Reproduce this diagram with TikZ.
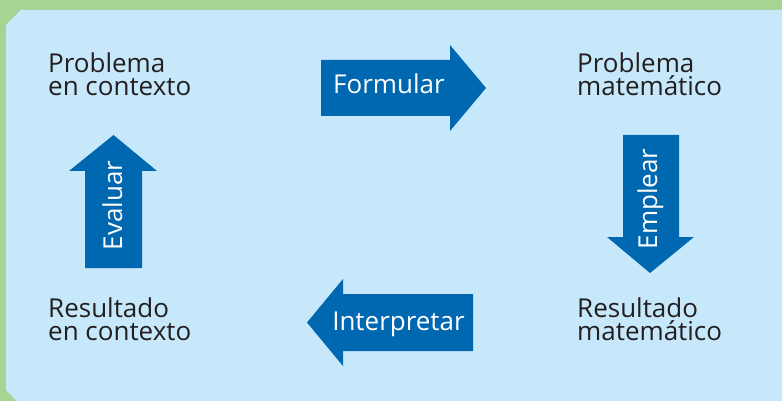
\documentclass[tikz,border=0pt]{standalone}
\usepackage{fontspec}
\setmainfont{Open Sans}
\usepackage{tikz}

\definecolor{panelblue}{HTML}{C6E8FA}
\definecolor{framegreen}{HTML}{A7D393}
\definecolor{arrowblue}{HTML}{0067B1}
\definecolor{labelink}{HTML}{231F20}

\tikzset{
  stage/.style={anchor=base west, align=left, inner sep=0pt, text=labelink,
    font=\fontsize{26}{22.5}\selectfont},
  verb/.style={anchor=base, inner sep=0pt, text=white,
    font=\fontsize{26}{22.5}\selectfont},
  bigarrow/.style={fill=arrowblue},
}

\begin{document}
\begin{tikzpicture}[x=1pt, y=-1pt]
  \useasboundingbox (0,0) rectangle (782,401);
  %% frame and panel
  \fill[framegreen] (0,0) rectangle (782,401);
  \fill[panelblue] (6,25) -- (21,10) -- (782,10) -- (782,401)
    -- (17,401) -- (6,390) -- cycle;

  %% the four stages (base = last line)
  \node[stage] (pctx) at (48,95.5) {Problema\\en contexto};
  \node[stage] (pmat) at (577,95.5) {Problema\\matemático};
  \node[stage] (rmat) at (577,340) {Resultado\\matemático};
  \node[stage] (rctx) at (48,340) {Resultado\\en contexto};

  %% block arrows of the cycle
  \fill[bigarrow] (321,60) -- (450,60) -- (450,45) -- (486,88)
    -- (450,131) -- (450,116) -- (321,116) -- cycle;
  \fill[bigarrow] (623,135) -- (679,135) -- (679,237) -- (694,237)
    -- (650,273) -- (607,237) -- (623,237) -- cycle;
  \fill[bigarrow] (473,294) -- (343,294) -- (343,279) -- (307,322.5)
    -- (343,366) -- (343,351) -- (473,351) -- cycle;
  \fill[bigarrow] (85,268) -- (85,171) -- (69,171) -- (113.5,135)
    -- (157,171) -- (142,171) -- (142,268) -- cycle;

  \node[verb] (formular) at (389,94) {Formular};
  \node[verb, rotate=90] (emplear) at (657,199) {Emplear};
  \node[verb] (interpretar) at (398.5,330) {Interpretar};
  \node[verb, rotate=90] (evaluar) at (122,205.5) {Evaluar};
\end{tikzpicture}
\end{document}
